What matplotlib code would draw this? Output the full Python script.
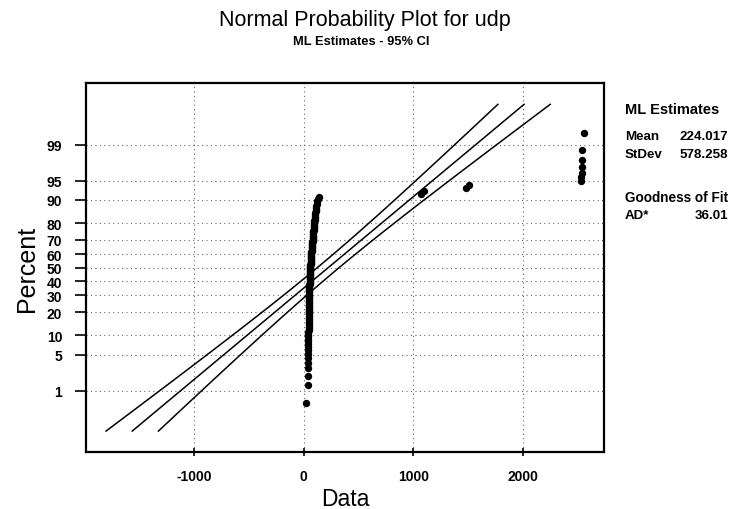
from statistics import NormalDist

import numpy as np
from matplotlib import pyplot as plt

# sorted sample values (n = 130)
udp = [
    24, 36, 38, 39, 40, 41, 41, 42, 42, 43,
    43, 43, 44, 44, 44, 45, 45, 45, 46, 46,
    46, 46, 47, 47, 47, 47, 48, 48, 48, 48,
    49, 49, 49, 49, 50, 50, 50, 50, 50, 51,
    51, 51, 51, 51, 51, 52, 52, 53, 53, 54,
    54, 55, 55, 56, 56, 57, 57, 58, 58, 59,
    59, 60, 60, 61, 62, 62, 63, 63, 64, 65,
    65, 66, 66, 67, 68, 68, 69, 70, 71, 72,
    72, 73, 74, 75, 76, 77, 78, 79, 80, 81,
    82, 83, 84, 85, 86, 87, 88, 89, 90, 91,
    92, 93, 94, 95, 97, 98, 100, 101, 103, 105,
    107, 109, 111, 114, 117, 120, 124, 129, 137,
    1075, 1100,
    1480, 1510,
    2528, 2531, 2537, 2537, 2543, 2543, 2555,
]
mean = 224.017
stdev = 578.258
ad_stat = 36.01

pct_ticks = [1, 5, 10, 20, 30, 40, 50, 60, 70, 80, 90, 95, 99]
x_ticks = [-1000, 0, 1000, 2000]

nd = NormalDist()


def z_of(p):
    return np.array([nd.inv_cdf(v) for v in np.atleast_1d(p)])


def main():
    plt.rcParams["font.family"] = ["Liberation Sans", "DejaVu Sans"]
    fig = plt.figure(figsize=(7.38, 5.10), dpi=100)
    ax = fig.add_axes([0.1165, 0.1118, 0.7019, 0.7235])

    n = len(udp)
    ranks = np.arange(1, n + 1)
    p = (ranks - 0.3) / (n + 0.4)  # median ranks
    ax.plot(udp, z_of(p), "o", color="black", markersize=4.3, zorder=3)

    # fitted line and 95% CI from 0.1% to 99.9%
    z = np.linspace(nd.inv_cdf(0.001), nd.inv_cdf(0.999), 50)
    xp = mean + z * stdev
    se = stdev * np.sqrt((1 + z ** 2 / 2) / n)
    ax.plot(xp, z, color="black", lw=1.1)
    ax.plot(xp - 1.96 * se, z, color="black", lw=1.1)
    ax.plot(xp + 1.96 * se, z, color="black", lw=1.1)

    ax.set_xlim(-1985, 2740)
    ax.set_ylim(-3.486, 3.494)
    ax.set_xticks(x_ticks)
    ax.set_xticklabels([str(v) for v in x_ticks], fontsize=10, fontweight="bold")
    ax.set_yticks(z_of(np.array(pct_ticks) / 100))
    ax.set_yticklabels([str(v) for v in pct_ticks], fontsize=10, fontweight="bold")
    ax.tick_params(axis="y", direction="out", length=8, width=1.2, pad=9)
    ax.tick_params(axis="x", direction="inout", length=6, width=1.2, pad=9)
    ax.grid(True, color="#666666", linestyle=(0, (1, 3)), linewidth=0.8)
    for s in ax.spines.values():
        s.set_linewidth(1.6)

    ax.set_xlabel("Data", fontsize=16.5, labelpad=3)
    ax.set_ylabel("Percent", fontsize=18, labelpad=6)

    fig.text(0.495, 0.96, "Normal Probability Plot for udp", fontsize=15.5,
             ha="center", va="center")
    fig.text(0.49, 0.918, "ML Estimates - 95% CI", fontsize=9.3,
             fontweight="bold", ha="center", va="center")

    x0, x1 = 625 / 738, 728 / 738
    fig.text(x0, 1 - 110 / 510, "ML Estimates", fontsize=10.5,
             fontweight="bold", va="center")
    fig.text(x0, 1 - 137 / 510, "Mean", fontsize=9.6, fontweight="bold", va="center")
    fig.text(x1, 1 - 137 / 510, f"{mean:.3f}", fontsize=9.6, fontweight="bold",
             va="center", ha="right")
    fig.text(x0, 1 - 155 / 510, "StDev", fontsize=9.6, fontweight="bold", va="center")
    fig.text(x1, 1 - 155 / 510, f"{stdev:.3f}", fontsize=9.6, fontweight="bold",
             va="center", ha="right")
    fig.text(x0, 1 - 198 / 510, "Goodness of Fit", fontsize=9.8,
             fontweight="bold", va="center")
    fig.text(x0, 1 - 216 / 510, "AD*", fontsize=9.6, fontweight="bold", va="center")
    fig.text(x1, 1 - 216 / 510, f"{ad_stat:.2f}", fontsize=9.6, fontweight="bold",
             va="center", ha="right")

    fig.savefig("out.png", dpi=100)


if __name__ == "__main__":
    main()
